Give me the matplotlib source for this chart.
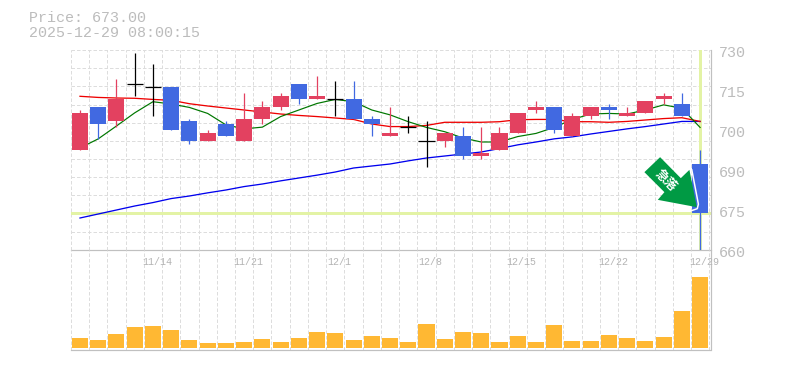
import matplotlib
matplotlib.use("Agg")
import numpy as np
import matplotlib.pyplot as plt
from matplotlib.patches import Polygon
from matplotlib.transforms import Affine2D

plt.rcParams['font.family'] = ['Liberation Mono', 'DejaVu Sans Mono']

# Daily prices
opens = [695, 710, 705, 718, 717, 717, 705, 698, 704, 698, 706, 710, 718, 713, 713, 713, 706, 700,
         703, 698, 698, 700, 693, 695, 701, 709, 710, 700, 707, 710, 707, 708, 713, 711, 690]
highs = [709, 710, 720, 729, 725, 717, 706, 702, 705, 715, 712, 715, 718, 721, 719, 719, 707, 710,
         707, 705, 701, 703, 703, 703, 708, 712, 710, 708, 710, 711, 710, 712, 715, 715, 695]
lows = [695, 699, 703, 714, 707, 702, 697, 698, 700, 698, 704, 709, 711, 713, 707, 706, 700, 700,
        701, 689, 696, 692, 692, 695, 701, 708, 701, 700, 706, 706, 707, 708, 711, 707, 660]
closes = [708, 704, 713, 718, 717, 702, 698, 701, 700, 706, 710, 714, 713, 714, 713, 706, 704, 701,
          703, 698, 701, 693, 694, 701, 708, 710, 702, 707, 710, 709, 708, 712, 714, 707, 673]

# Moving averages
ma_red = [713.8, 713.4, 713.2, 713.1, 712.7, 712.4, 711.2, 710.4, 709.7, 709.0, 708.3, 707.6,
          707.1, 706.7, 706.2, 705.7, 704.1, 703.2, 703.2, 703.6, 704.7, 704.7, 704.7, 704.9,
          705.6, 705.7, 705.7, 704.9, 704.9, 704.7, 705.0, 705.5, 706.0, 706.3, 705.0]
ma_green = [695.7, 698.9, 703.4, 708.0, 711.9, 711.1, 709.9, 707.8, 703.8, 702.4, 703.0, 706.7,
            709.0, 711.3, 712.7, 711.9, 709.0, 707.3, 704.9, 702.9, 701.4, 699.2, 697.8, 697.8,
            699.7, 700.8, 702.9, 705.7, 707.6, 707.8, 707.6, 709.0, 710.8, 709.6, 702.9]
ma_blue = [671.2, 672.6, 674.0, 675.4, 676.6, 678.0, 678.9, 680.0, 681.0, 682.2, 683.1, 684.2,
           685.2, 686.2, 687.3, 688.7, 689.4, 690.1, 691.2, 692.2, 692.9, 693.6, 694.3, 695.5,
           696.8, 697.8, 698.9, 699.6, 700.6, 701.5, 702.4, 703.2, 704.1, 705.0, 705.0]

volumes = [1000, 800, 1400, 2100, 2200, 1800, 800, 500, 500, 600, 900, 600, 1000, 1600, 1500, 800,
           1200, 1000, 600, 2400, 900, 1600, 1500, 600, 1200, 600, 2300, 700, 700, 1300, 1000, 700,
           1100, 3700, 7100]

date_pos = [4, 9, 14, 19, 24, 29, 34]
date_labels = ['11/14', '11/21', '12/1', '12/8', '12/15', '12/22', '12/29']
y_ticks = [730, 716, 702, 688, 674, 660]
y_labels = ['730', '715', '700', '690', '675', '660']
last_price = 673.00
last_time = '2025-12-29 08:00:15'

W, H = 785, 370
GRID = '#dddddd'
TEXT = '#bcbcbc'
RED = '#e34160'
BLUE = '#4169e1'
YELLOW = '#e3f3a5'
PX = 0.72  # one pixel in points at dpi 100

x = np.arange(len(opens))

fig = plt.figure(figsize=(W / 100, H / 100), dpi=100, facecolor='white')
ax = fig.add_axes([70.5 / W, 1 - 250 / H, 640 / W, 200 / H])
ax2 = fig.add_axes([70.5 / W, 1 - 350 / H, 640 / W, 100 / H])
ax2.patch.set_visible(False)


def setup_axis(a):
    a.set_xlim(-0.52, 34.57)
    a.set_xticks(x[:-1] + 0.5)
    a.set_xticks([-0.5, 34.5], minor=True)
    a.tick_params(which='both', length=0, labelbottom=False, labelleft=False)
    a.grid(True, axis='x', which='both', color=GRID, lw=PX, ls=(0, (3.5, 2)))
    a.set_axisbelow(True)
    for side in ['top', 'left']:
        a.spines[side].set_visible(False)
    for side in ['right', 'bottom']:
        a.spines[side].set_color('#c0c0c0')
        a.spines[side].set_linewidth(PX * 1.2)


# price panel
setup_axis(ax)
ax.set_ylim(660, 730)
ax.set_yticks(np.linspace(660, 730, 12))
ax.grid(True, axis='y', color=GRID, lw=PX, ls=(0, (3.5, 2)))
for line in ax.get_ygridlines() + ax.get_xgridlines():
    line.set_clip_on(False)

ax.axhline(last_price, color=YELLOW, lw=PX * 3, zorder=1.5)
ax.axvline(x[-1], color=YELLOW, lw=PX * 3, zorder=1.5)

ax.plot(x, ma_blue, color='#0000ee', lw=PX * 1.3, zorder=2)
ax.plot(x, ma_red, color='#ee0000', lw=PX * 1.3, zorder=2)
ax.plot(x, ma_green, color='#007700', lw=PX * 1.2, zorder=2)

for i in x:
    if closes[i] > opens[i]:
        col = RED
    elif closes[i] < opens[i]:
        col = BLUE
    else:
        col = 'black'
    ax.plot([i, i], [lows[i], highs[i]], color=col, lw=PX * 1.25, zorder=3, solid_capstyle='butt')
    if col == 'black':
        ax.plot([i - 0.44, i + 0.44], [opens[i], opens[i]], color=col, lw=PX * 1.25, zorder=3,
                solid_capstyle='butt')
    else:
        ax.bar(i, abs(closes[i] - opens[i]), bottom=min(opens[i], closes[i]), width=0.88,
               color=col, zorder=3)

# arrow pointing at the last price, shape in pixels from its tip
arrow_shape = [(0, 0), (-39, 7.3), (-32.4, 15), (-52.4, 35), (-36.7, 50), (-16, 29), (-7.4, 37.3)]
tip_x, tip_y = ax.transData.transform((x[-1], last_price))
to_tip = Affine2D().translate(tip_x - 3.3, tip_y + 5.7)
ax.add_patch(Polygon(arrow_shape, closed=True, facecolor='#009a44', edgecolor='none',
                     transform=to_tip, zorder=5, clip_on=False))
ax.plot([-5, 1.6, 0.5, -5], [37.3, 3, -1.5, -3.4], color='white', lw=PX * 1.5, transform=to_tip,
        zorder=5, clip_on=False)
ax.text(-31, 27, '急落', family=['Noto Sans CJK JP', 'DejaVu Sans'], fontsize=9, weight='bold',
        color='white', rotation=-45, ha='center', va='center', transform=to_tip, zorder=6,
        rotation_mode='anchor')

for t, lab in zip(y_ticks, y_labels):
    ax.annotate(lab, (1, t), xycoords=ax.get_yaxis_transform(), xytext=(8.5, -3),
                textcoords='offset pixels', color=TEXT, fontsize=10.8, ha='left', va='center',
                annotation_clip=False)

# volume panel
setup_axis(ax2)
ax2.set_ylim(-200, 9800)
ax2.set_yticks([])
ax2.bar(x, volumes, width=0.88, color='#ffb833', zorder=3)
for pos, lab in zip(date_pos, date_labels):
    ax2.annotate(lab, (pos, 1), xycoords=ax2.get_xaxis_transform(), xytext=(4, -12),
                 textcoords='offset pixels', color='#b4b4b4', fontsize=7.2, ha='center', va='center',
                 annotation_clip=False)

fig.text(29 / W, 1 - 18 / H, 'Price: %.2f' % last_price, color=TEXT, fontsize=10.8, ha='left', va='center')
fig.text(29 / W, 1 - 33 / H, last_time, color=TEXT, fontsize=10.8, ha='left', va='center')

fig.savefig('out.png', dpi=100, facecolor='white')
